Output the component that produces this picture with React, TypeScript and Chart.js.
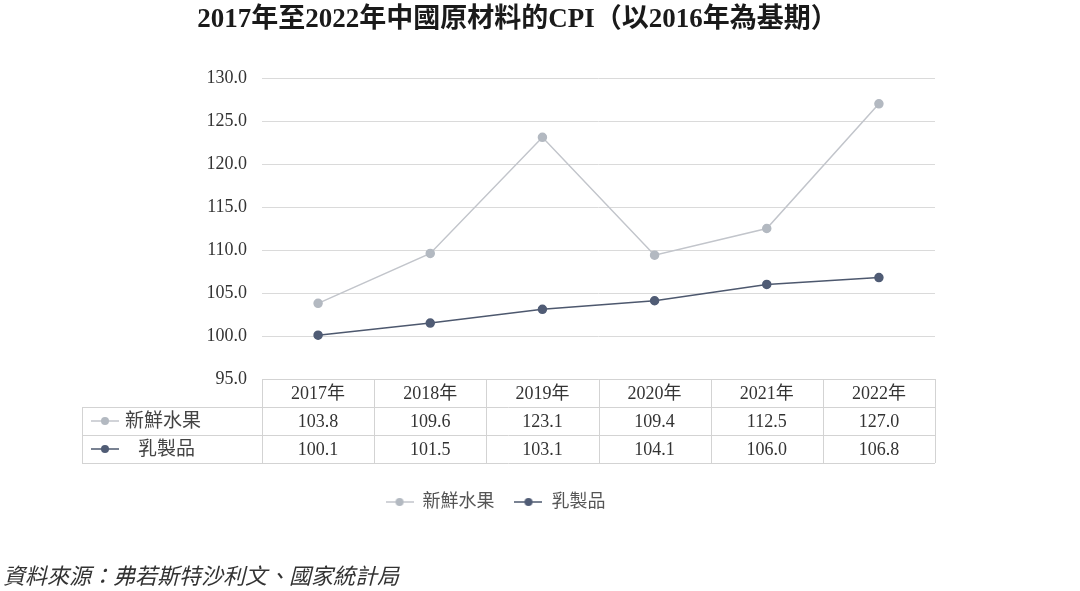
import React, { useEffect, useRef } from "react";
import { Chart, registerables } from "chart.js";

Chart.register(...registerables);

const titleText = "2017年至2022年中國原材料的CPI（以2016年為基期）";
const sourceText = "資料來源：弗若斯特沙利文、國家統計局";
const categories = ["2017年", "2018年", "2019年", "2020年", "2021年", "2022年"];
const seriesNames = ["新鮮水果", "乳製品"];
const freshFruit = [103.8, 109.6, 123.1, 109.4, 112.5, 127.0];
const dairy = [100.1, 101.5, 103.1, 104.1, 106.0, 106.8];
const yMin = 95;
const yMax = 130;
const yStep = 5;

const FRUIT_LINE = "#c2c5cb";
const FRUIT_POINT = "#b3b9c1";
const DAIRY_LINE = "#4d586e";
const DAIRY_POINT = "#505c75";
const FONT = '"Liberation Serif", "Noto Sans CJK TC", serif';

function makeIcon(line: string, point: string): HTMLCanvasElement {
  const c = document.createElement("canvas");
  c.width = 28;
  c.height = 12;
  const g = c.getContext("2d")!;
  g.strokeStyle = line;
  g.lineWidth = 1.5;
  g.beginPath();
  g.moveTo(0, 6);
  g.lineTo(28, 6);
  g.stroke();
  g.fillStyle = point;
  g.beginPath();
  g.arc(14, 6, 4, 0, Math.PI * 2);
  g.fill();
  return c;
}

export default function App() {
  const ref = useRef<HTMLCanvasElement | null>(null);

  useEffect(() => {
    if (!ref.current) return;
    const icons = [makeIcon(FRUIT_LINE, FRUIT_POINT), makeIcon(DAIRY_LINE, DAIRY_POINT)];
    const rows = [freshFruit, dairy];

    const boxShift = {
      id: "boxShift",
      afterLayout(chart: any) {
        if (chart.legend) {
          chart.legend.left -= 13;
          chart.legend.right -= 13;
        }
        if (chart.titleBlock) {
          chart.titleBlock.left += 9;
          chart.titleBlock.right += 9;
        }
      },
    };

    const tablePlugin = {
      id: "dataTable",
      afterDraw(chart: any) {
        const { ctx, chartArea, scales } = chart;
        const x = scales.x;
        const rowH = 28;
        const top = chartArea.bottom;
        const tableLeft = 82;
        const right = chartArea.right;
        const step = x.getPixelForValue(1) - x.getPixelForValue(0);
        ctx.save();
        ctx.strokeStyle = "#d3d3d3";
        ctx.lineWidth = 1;
        const hline = (y: number, x0: number, x1: number) => {
          ctx.beginPath();
          ctx.moveTo(x0, Math.round(y) + 0.5);
          ctx.lineTo(x1, Math.round(y) + 0.5);
          ctx.stroke();
        };
        const vline = (xx: number, y0: number, y1: number) => {
          ctx.beginPath();
          ctx.moveTo(Math.round(xx) + 0.5, y0);
          ctx.lineTo(Math.round(xx) + 0.5, y1);
          ctx.stroke();
        };
        hline(top, chartArea.left, right);
        hline(top + rowH, tableLeft, right);
        hline(top + rowH * 2, tableLeft, right);
        hline(top + rowH * 3, tableLeft, right);
        vline(tableLeft, top + rowH, top + rowH * 3);
        for (let i = 0; i <= categories.length; i++) {
          const bx = i < categories.length ? x.getPixelForValue(i) - step / 2 : right;
          vline(bx, top, top + rowH * 3);
        }
        ctx.fillStyle = "#333";
        ctx.font = `18px ${FONT}`;
        ctx.textAlign = "center";
        ctx.textBaseline = "middle";
        categories.forEach((c, i) => {
          ctx.fillText(c, x.getPixelForValue(i), top + rowH / 2 + 1);
        });
        rows.forEach((vals, r) => {
          const cy = top + rowH * (r + 1) + rowH / 2 + 1;
          vals.forEach((v, i) => {
            ctx.fillText(v.toFixed(1), x.getPixelForValue(i), cy);
          });
        });
        ctx.textAlign = "left";
        ctx.fillStyle = "#444";
        ctx.font = `19px ${FONT}`;
        rows.forEach((_, r) => {
          const cy = top + rowH * (r + 1) + rowH / 2;
          ctx.drawImage(icons[r], 91, cy - 6);
          ctx.fillText(seriesNames[r], r === 0 ? 125 : 138, cy + 1);
        });
        ctx.restore();
      },
    };

    const chart = new Chart(ref.current, {
      type: "line",
      data: {
        labels: categories,
        datasets: [
          {
            label: seriesNames[0],
            data: freshFruit,
            borderColor: FRUIT_LINE,
            backgroundColor: FRUIT_POINT,
            pointBackgroundColor: FRUIT_POINT,
            pointBorderColor: FRUIT_POINT,
            borderWidth: 1.5,
            pointRadius: 4,
            tension: 0,
          },
          {
            label: seriesNames[1],
            data: dairy,
            borderColor: DAIRY_LINE,
            backgroundColor: DAIRY_POINT,
            pointBackgroundColor: DAIRY_POINT,
            pointBorderColor: DAIRY_POINT,
            borderWidth: 1.5,
            pointRadius: 4,
            tension: 0,
          },
        ],
      },
      options: {
        animation: false,
        responsive: true,
        maintainAspectRatio: false,
        layout: { padding: { left: 82, right: 145, top: 0, bottom: 70 } },
        scales: {
          x: {
            offset: true,
            grid: { display: false },
            border: { display: false },
            ticks: { display: false },
            afterFit: (s: any) => {
              s.height = 94;
            },
          },
          y: {
            min: yMin,
            max: yMax,
            grid: { color: "#dadada", drawTicks: false, lineWidth: 1 },
            border: { display: false },
            ticks: {
              stepSize: yStep,
              padding: 15,
              color: "#333",
              font: { family: FONT, size: 18 },
              callback: (v: any) => Number(v).toFixed(1),
            },
            afterFit: (s: any) => {
              s.width = 180;
            },
          },
        },
        plugins: {
          title: {
            display: true,
            text: titleText,
            color: "#1a1a1a",
            font: { family: FONT, size: 27, weight: "bold" },
            padding: { top: 4, bottom: 41.6 },
          },
          legend: {
            position: "bottom",
            labels: {
              usePointStyle: true,
              pointStyleWidth: 28,
              padding: 20,
              color: "#555",
              font: { family: FONT, size: 18 },
              generateLabels: () =>
                seriesNames.map((n, i) => ({
                  text: n,
                  pointStyle: icons[i],
                  fillStyle: "transparent",
                  strokeStyle: "transparent",
                  lineWidth: 0,
                  datasetIndex: i,
                  hidden: false,
                  fontColor: "#555",
                })),
            },
          },
          tooltip: { enabled: false },
        },
      },
      plugins: [boxShift, tablePlugin],
    });
    return () => chart.destroy();
  }, []);

  return (
    <div
      style={{
        position: "absolute",
        left: 0,
        top: 0,
        width: 1080,
        height: 591,
        background: "#fff",
        overflow: "hidden",
      }}
    >
      <canvas ref={ref} />
      <div
        style={{
          position: "absolute",
          left: 3,
          top: 558,
          fontFamily: FONT,
          fontStyle: "italic",
          fontSize: 22,
          color: "#333",
          whiteSpace: "nowrap",
        }}
      >
        {sourceText}
      </div>
    </div>
  );
}
